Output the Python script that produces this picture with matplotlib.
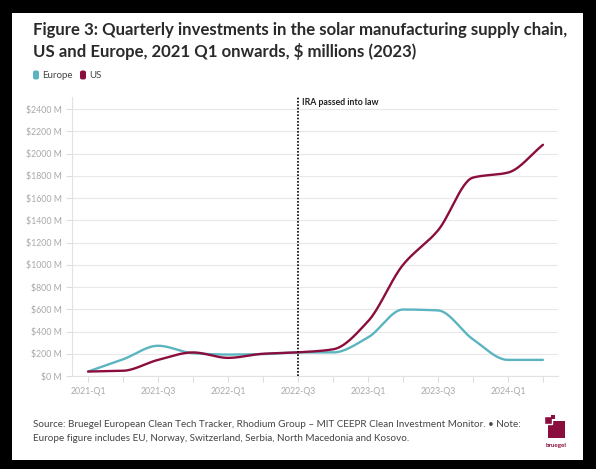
import numpy as np
import matplotlib
matplotlib.use("Agg")
import matplotlib.pyplot as plt
from matplotlib.patches import Rectangle, FancyBboxPatch

plt.rcParams['font.family'] = ['Lato', 'DejaVu Sans']

quarters = ["2021-Q1", "2021-Q2", "2021-Q3", "2021-Q4",
            "2022-Q1", "2022-Q2", "2022-Q3", "2022-Q4",
            "2023-Q1", "2023-Q2", "2023-Q3", "2023-Q4",
            "2024-Q1", "2024-Q2"]
europe = [40, 150, 272, 205, 193, 197, 212, 212, 347, 598, 590, 330, 145, 145]
us = [40, 47, 145, 212, 163, 200, 213, 240, 492, 1000, 1310, 1785, 1830, 2080]
yticks = list(range(0, 2401, 200))
ira_quarter = "2022-Q3"

EU_COL = "#5cb4c1"
US_COL = "#8b0d3d"
GRAY = "#a8a8a8"


def monotone(x, y, n=30):
    # Fritsch-Carlson monotone cubic, like d3 curveMonotoneX
    x = np.asarray(x, float)
    y = np.asarray(y, float)
    h = np.diff(x)
    d = np.diff(y) / h
    m = np.zeros_like(y)
    m[0], m[-1] = d[0], d[-1]
    for i in range(1, len(y) - 1):
        if d[i - 1] * d[i] <= 0:
            m[i] = 0
        else:
            m[i] = 3 * (h[i - 1] + h[i]) / ((2 * h[i] + h[i - 1]) / d[i - 1] + (h[i] + 2 * h[i - 1]) / d[i])
    xs, ys = [], []
    for i in range(len(h)):
        t = np.linspace(0, 1, n, endpoint=False)
        h00 = 2 * t**3 - 3 * t**2 + 1
        h10 = t**3 - 2 * t**2 + t
        h01 = -2 * t**3 + 3 * t**2
        h11 = t**3 - t**2
        xs.append(x[i] + t * h[i])
        ys.append(h00 * y[i] + h10 * h[i] * m[i] + h01 * y[i + 1] + h11 * h[i] * m[i + 1])
    xs.append([x[-1]])
    ys.append([y[-1]])
    return np.concatenate(xs), np.concatenate(ys)


fig = plt.figure(figsize=(5.96, 4.69), dpi=100)
fig.patch.set_facecolor("black")
fig.add_artist(Rectangle((12 / 596, 1 - 460 / 469), 571 / 596, 447 / 469,
                         transform=fig.transFigure, facecolor="white", edgecolor="none", zorder=0))

ax = fig.add_axes([72 / 596, 1 - 376 / 469, 486 / 596, 279 / 469])
ax.set_facecolor("white")

xi = np.arange(len(quarters))
for vals, col in [(europe, EU_COL), (us, US_COL)]:
    sx, sy = monotone(xi, vals)
    ax.plot(sx, sy, color=col, lw=1.7, solid_capstyle="round", zorder=3)

ira = quarters.index(ira_quarter)
ax.axvline(ira, color="black", lw=1.2, ls=(0, (1, 1)), zorder=4)
ax.text(ira + 0.12, 2465, "IRA passed into law", fontsize=6.3, fontweight="bold",
        color="#222222", va="center", ha="left")

ax.set_xlim(-0.46, 13.43)
ax.set_ylim(0, 2510)
ax.set_yticks(yticks)
ax.set_yticklabels([f"${v} M" for v in yticks])
ax.set_xticks(xi)
ax.set_xticklabels([q if i % 2 == 0 else "" for i, q in enumerate(quarters)])
ax.grid(axis="y", color="#e8e8e8", lw=0.8)
ax.set_axisbelow(True)
for s in ["top", "right"]:
    ax.spines[s].set_visible(False)
for s in ["left", "bottom"]:
    ax.spines[s].set_color("#e2e2e2")
    ax.spines[s].set_linewidth(0.8)
ax.tick_params(colors="#dddddd", labelcolor=GRAY, labelsize=6.3, length=4, width=0.8)
ax.tick_params(axis="x", pad=4)

fig.text(33 / 596, 1 - 30 / 469, "Figure 3: Quarterly investments in the solar manufacturing supply chain,",
         fontsize=12.1, fontweight="bold", color="#2a2a2a", va="center")
fig.text(33 / 596, 1 - 52 / 469, "US and Europe, 2021 Q1 onwards, $ millions (2023)",
         fontsize=12.1, fontweight="bold", color="#2a2a2a", va="center")

# legend
for x0, col, lab in [(33, EU_COL, "Europe"), (80, US_COL, "US")]:
    fig.add_artist(FancyBboxPatch((x0 / 596, 1 - 79.5 / 469), 6 / 596, 9 / 469,
                                  boxstyle="round,pad=0,rounding_size=0.004",
                                  transform=fig.transFigure, facecolor=col, edgecolor="none"))
    fig.text((x0 + 9) / 596, 1 - 75 / 469, lab, fontsize=7, color="#444444", va="center")

fig.text(33 / 596, 1 - 424 / 469,
         "Source: Bruegel European Clean Tech Tracker, Rhodium Group \u2013 MIT CEEPR Clean Investment Monitor. \u2022 Note:",
         fontsize=7.1, color="#444444", va="center")
fig.text(33 / 596, 1 - 438 / 469,
         "Europe figure includes EU, Norway, Switzerland, Serbia, North Macedonia and Kosovo.",
         fontsize=7.1, color="#444444", va="center")

# bruegel logo
logo = US_COL
fig.add_artist(Rectangle((548 / 596, 1 - 438 / 469), 17 / 596, 17 / 469,
                         transform=fig.transFigure, facecolor=logo, edgecolor="none"))
fig.add_artist(Rectangle((544 / 596, 1 - 424 / 469), 8 / 596, 8 / 469,
                         transform=fig.transFigure, facecolor=logo, edgecolor="white", lw=1))
fig.add_artist(Rectangle((551 / 596, 1 - 419 / 469), 4 / 596, 4 / 469,
                         transform=fig.transFigure, facecolor=logo, edgecolor="none"))
fig.text(556 / 596, 1 - 445 / 469, "bruegel", fontsize=4.5, fontweight="bold",
         color=logo, ha="center", va="center")

fig.savefig("out.png", dpi=100, facecolor=fig.get_facecolor())
